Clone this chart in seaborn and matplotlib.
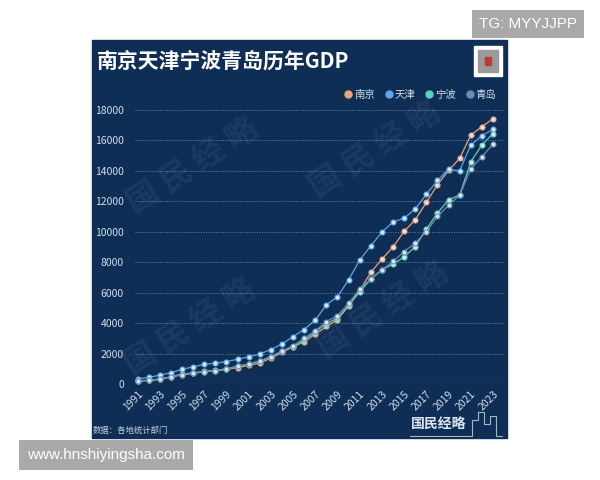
import numpy as np
import pandas as pd
import matplotlib
matplotlib.use("Agg")
import matplotlib.pyplot as plt
import seaborn as sns
from matplotlib.patches import Rectangle
from matplotlib.lines import Line2D

# ---- data (GDP, 亿元) ----
years = list(range(1991, 2024))
nanjing = [200, 240, 320, 460, 600, 700, 800, 870, 960, 1080, 1220, 1380, 1690, 2070, 2450, 2770,
           3280, 3780, 4230, 5130, 6150, 7330, 8200, 9010, 10020, 10790, 11930, 13090, 14030,
           14818, 16355, 16907, 17421]
tianjin = [343, 430, 580, 740, 960, 1130, 1290, 1365, 1470, 1630, 1780, 1980, 2260, 2630, 3110,
           3580, 4200, 5200, 5740, 6840, 8140, 9080, 9980, 10640, 10890, 11500, 12460, 13370,
           14104, 14008, 15695, 16311, 16737]
ningbo = [190, 230, 300, 480, 650, 730, 830, 900, 990, 1180, 1310, 1500, 1790, 2160, 2450, 2860,
          3430, 3960, 4330, 5160, 6060, 6880, 7500, 7880, 8340, 9030, 10180, 11230, 12100, 12409,
          14595, 15704, 16452]
qingdao = [210, 250, 330, 470, 620, 720, 800, 880, 980, 1150, 1320, 1520, 1780, 2160, 2520, 3000,
           3500, 4100, 4500, 5300, 6250, 6900, 7500, 8050, 8700, 9260, 10000, 11007, 11741, 12401,
           14136, 14921, 15760]
cities = ["南京", "天津", "宁波", "青岛"]
colors = ["#f0a27a", "#5fa6e6", "#5fd1b4", "#6f8db0"]

df = pd.DataFrame({
    "year": years * 4,
    "gdp": nanjing + tianjin + ningbo + qingdao,
    "city": [c for c in cities for _ in years],
})

sns.set_style("white")
plt.rcParams["font.family"] = ["Noto Sans CJK SC", "DejaVu Sans"]

W, H = 600, 480
fig = plt.figure(figsize=(6, 4.8), dpi=100)
fig.patch.set_facecolor("white")

def fx(px):
    return px / W

def fy(py):
    return 1 - py / H

# dark panel (behind the axes)
fig.patches.append(Rectangle((fx(92), fy(438)), fx(507) - fx(92), fy(40) - fy(438),
                             transform=fig.transFigure, color="#0e2e56", zorder=-2))

# watermarks, also behind the axes
for (x, y) in [(193, 166), (375, 150), (190, 327), (383, 310)]:
    fig.text(fx(x), fy(y), "国 民 经 略", color="white", alpha=0.06, fontsize=23,
             fontweight="bold", rotation=33, ha="center", va="center", zorder=-1)

ax = fig.add_axes([fx(135), fy(384), fx(505) - fx(135), fy(110) - fy(384)])
ax.set_facecolor("none")
ax.set_zorder(1)

for city, col in zip(cities, colors):
    sns.lineplot(data=df[df["city"] == city], x="year", y="gdp", ax=ax, color=col,
                 linewidth=0.9, marker="o", markersize=3.6, markerfacecolor="#d6e6f4",
                 markeredgecolor=col, markeredgewidth=0.8, clip_on=False, zorder=3)

ax.set_xlim(1990.77, 2024.08)
ax.set_ylim(0, 18000)
ax.set_yticks(range(0, 18001, 2000))
ax.set_xticks(range(1991, 2024, 2))
ax.set_xlabel("")
ax.set_ylabel("")
for s in ax.spines.values():
    s.set_visible(False)
ax.grid(axis="y", color="#8fa7c4", linestyle=(0, (1, 1.5)), linewidth=0.7, alpha=0.7)
ax.grid(axis="x", visible=False)
ax.axhline(0, color="#46628a", linewidth=0.8, zorder=1)
ax.tick_params(axis="both", length=0, colors="#d3dde9", labelsize=7.5)
ax.tick_params(axis="y", pad=8)
plt.setp(ax.get_xticklabels(), rotation=45, ha="right", rotation_mode="anchor")

# title
fig.text(fx(97), fy(61), "南京天津宁波青岛历年GDP", color="white", fontsize=15,
         fontweight="bold", va="center", ha="left")

# QR placeholder
fig.patches.append(Rectangle((fx(474), fy(76)), fx(28), fy(46) - fy(76),
                             transform=fig.transFigure, color="white", zorder=2))
fig.patches.append(Rectangle((fx(478), fy(72)), fx(20), fy(50) - fy(72),
                             transform=fig.transFigure, color="#9a9a9a", zorder=3))
fig.patches.append(Rectangle((fx(485), fy(65)), fx(6), fy(57) - fy(65),
                             transform=fig.transFigure, color="#c0392b", zorder=4))

# legend
handles = [Line2D([], [], linestyle="none", marker="o", markersize=5, color=c) for c in colors]
leg = fig.legend(handles, cities, loc="center right", bbox_to_anchor=(fx(506), fy(95)),
                 ncol=4, frameon=False, fontsize=7.5, handletextpad=0.1, columnspacing=0.8,
                 handlelength=1.0)
for t in leg.get_texts():
    t.set_color("#d3dde9")

# source and logo
fig.text(fx(93), fy(430), "数据：各地统计部门", color="#c5d1df", fontsize=6, va="center")
fig.text(fx(411), fy(425), "国民经略", color="#dbe6f2", fontsize=10, va="center",
         fontweight="bold")
fig.lines.append(Line2D([fx(410), fx(472)], [fy(436), fy(436)], transform=fig.transFigure,
                        color="#9fb6cf", linewidth=0.8))
bx = [fx(v) for v in [472, 472, 478, 478, 484, 484, 490, 490, 496, 496, 502]]
by = [fy(v) for v in [436, 420, 420, 412, 412, 424, 424, 416, 416, 436, 436]]
fig.lines.append(Line2D(bx, by, transform=fig.transFigure, color="#9fb6cf", linewidth=0.8))

# gray watermark boxes
fig.text(fx(528), fy(24), "TG: MYYJJPP", color="white", fontsize=11, ha="center",
         va="center", family="Liberation Sans",
         bbox=dict(boxstyle="square,pad=0.45", facecolor="#a9a9a9", edgecolor="none"))
fig.text(fx(106), fy(455), "www.hnshiyingsha.com", color="white", fontsize=11, ha="center",
         va="center", family="Liberation Sans",
         bbox=dict(boxstyle="square,pad=0.5", facecolor="#a9a9a9", edgecolor="none"))

fig.savefig("out.png", dpi=100)
